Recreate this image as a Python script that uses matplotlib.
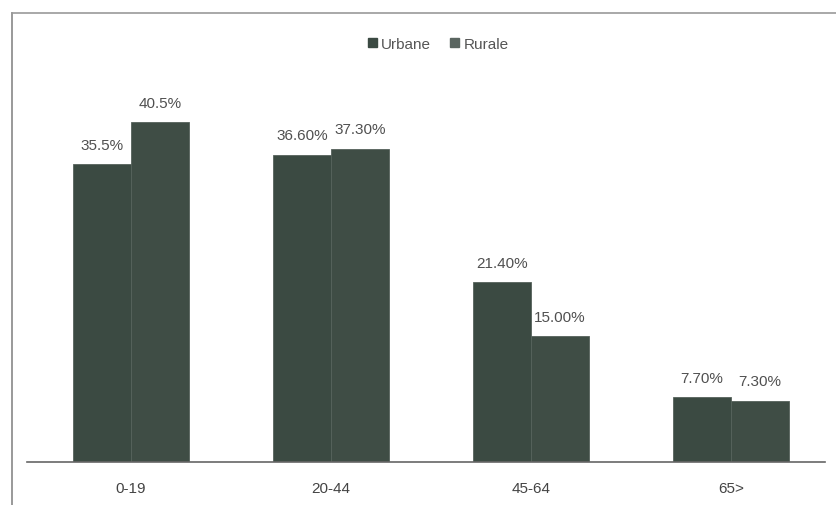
import numpy as np
import matplotlib.pyplot as plt
from matplotlib.lines import Line2D

# Data
categories = ["0-19", "20-44", "45-64", "65>"]
urbane = [35.5, 36.6, 21.4, 7.7]
rurale = [40.5, 37.3, 15.0, 7.3]
urbane_labels = ["35.5%", "36.60%", "21.40%", "7.70%"]
rurale_labels = ["40.5%", "37.30%", "15.00%", "7.30%"]

W, H = 836, 506
fig = plt.figure(figsize=(W / 100, H / 100), dpi=100)
plt.rcParams["font.family"] = ["Liberation Sans Narrow", "Liberation Sans", "DejaVu Sans"]

# axes placed in pixel coordinates: left 27, right 825, bottom 463, top 60
ax = fig.add_axes([27 / W, (H - 463) / H, (825 - 27) / W, (463 - 60) / H])

x = np.arange(len(categories))
bw = 0.29
c_urb = "#3b4a42"
c_rur = "#3f4d45"
b1 = ax.bar(x - bw / 2, urbane, bw, color=c_urb, edgecolor="#56625b", linewidth=0.6)
b2 = ax.bar(x + bw / 2, rurale, bw, color=c_rur, edgecolor="#56625b", linewidth=0.6)

for bars, labs in [(b1, urbane_labels), (b2, rurale_labels)]:
    for b, lab in zip(bars, labs):
        ax.annotate(lab, (b.get_x() + b.get_width() / 2, b.get_height()),
                    xytext=(0, 14), textcoords="offset points",
                    ha="center", va="center", fontsize=11, color="#505050")

ax.set_xlim(-0.52, 3.47)
ax.set_ylim(0, 48)
ax.set_xticks(x)
ax.set_xticklabels(categories, fontsize=11, color="#444444")
ax.tick_params(axis="x", length=0, pad=14)
ax.set_yticks([])
for s in ["top", "right", "left"]:
    ax.spines[s].set_visible(False)
ax.spines["bottom"].set_color("#666666")
ax.spines["bottom"].set_linewidth(1.2)

# legend at top center
handles = [plt.Rectangle((0, 0), 1, 1, color=c_urb), plt.Rectangle((0, 0), 1, 1, color="#5a6560")]
fig.legend(handles, ["Urbane", "Rurale"], loc="center", bbox_to_anchor=(438 / W, 1 - 45 / H),
           ncol=2, frameon=False, fontsize=11, handlelength=0.6, handleheight=0.6,
           handletextpad=0.3, columnspacing=1.2, labelcolor="#555555")

# frame lines of the scanned chart border
fig.add_artist(Line2D([12 / W, 12 / W], [0, 1 - 14 / H], color="#888888", linewidth=1.2))
fig.add_artist(Line2D([12 / W, 1], [1 - 14 / H, 1 - 14 / H], color="#999999", linewidth=1.2))

plt.savefig("out.png", dpi=100)
plt.close()
